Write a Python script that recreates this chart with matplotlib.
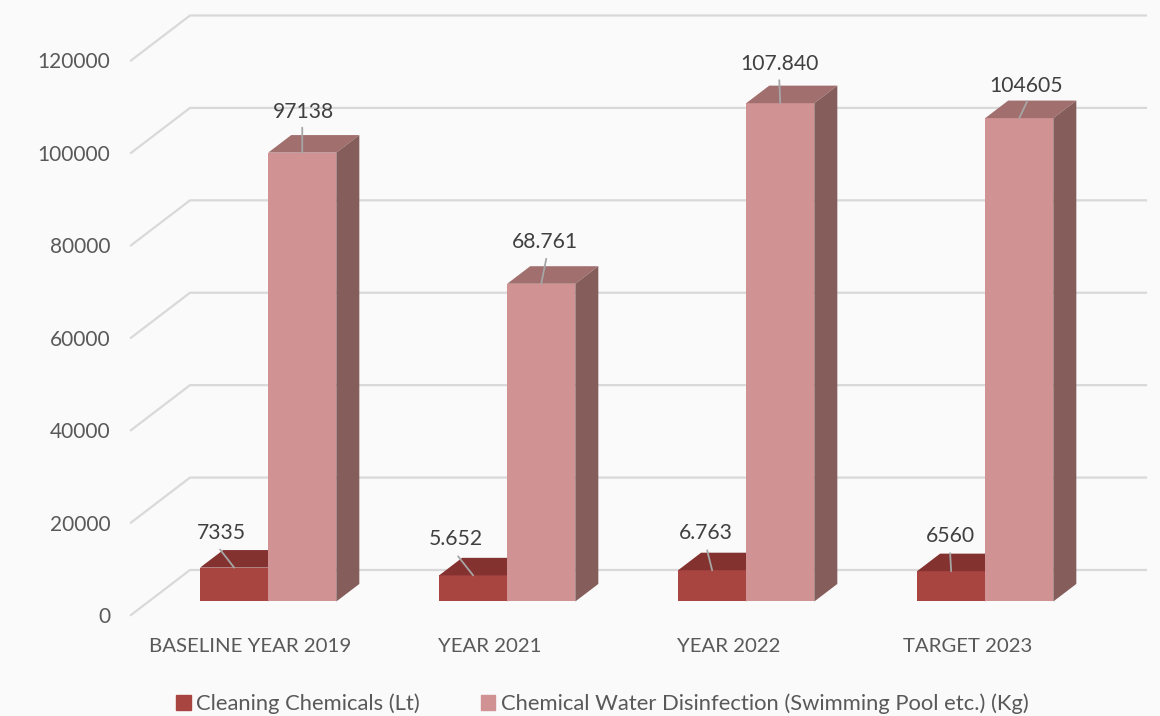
import matplotlib.pyplot as plt
from matplotlib.patches import Patch

plt.rcParams["font.family"] = ["Lato", "DejaVu Sans"]

# chart data
categories = ["BASELINE YEAR 2019", "YEAR 2021", "YEAR 2022", "TARGET 2023"]
cleaning = [7335, 5652, 6763, 6560]
disinfection = [97138, 68761, 107840, 104605]
cleaning_labels = ["7335", "5.652", "6.763", "6560"]
disinfection_labels = ["97138", "68.761", "107.840", "104605"]
y_ticks = [0, 20000, 40000, 60000, 80000, 100000, 120000]
series_names = ["Cleaning Chemicals (Lt)", "Chemical Water Disinfection (Swimming Pool etc.) (Kg)"]

W, H = 1160, 716
BG = "#fafafa"
GRID = "#d9d9d9"

# fake 3d: the depth of the floor in data units
DEPTH_X = 59 / 239
DEPTH_Y = 45 / 92.4 * 20000
BAR_T = 0.30  # where the bar front sits in the depth
BAR_W = 0.285
BAR_D = 0.39  # bar depth as part of floor depth

# label and leader offsets from the top front centre of the bar, in pixels
cleaning_text = [(-13, 35), (-17, 36), (-6, 37), (-1, 35)]
cleaning_lead = [(-14, 18), (-15, 19), (-5, 20), (-1, 18)]
disinfection_text = [(1, 41), (4, 42), (-1, 39), (7, 32)]
disinfection_lead = [(0, 25), (5, 25), (-1, 23), (8, 17)]

fig = plt.figure(figsize=(W / 100, H / 100), dpi=100, facecolor=BG)
ax = fig.add_axes([131 / W, (H - 615) / H, 956 / W, 554.5 / H], facecolor="none")
ax.set_xlim(-0.5, 3.5)
ax.set_ylim(0, 120000)
for s in ax.spines.values():
    s.set_visible(False)

# walls
for v in y_ticks:
    ax.plot([-0.5, -0.5 + DEPTH_X, 3.5 + DEPTH_X], [v, v + DEPTH_Y, v + DEPTH_Y],
            color=GRID, lw=1.6, clip_on=False, zorder=1, solid_joinstyle="round")


def draw_bars(xs, values, front, top, side, zorder):
    ax.bar(xs, values, BAR_W, bottom=BAR_T * DEPTH_Y, color=front, zorder=zorder)
    dx = BAR_D * DEPTH_X
    dy = BAR_D * DEPTH_Y
    for x, v in zip(xs, values):
        y0 = BAR_T * DEPTH_Y
        x0 = x - BAR_W / 2
        x1 = x + BAR_W / 2
        ax.fill([x0, x1, x1 + dx, x0 + dx], [y0 + v, y0 + v, y0 + v + dy, y0 + v + dy],
                color=top, lw=0, zorder=zorder, clip_on=False)
        ax.fill([x1, x1 + dx, x1 + dx, x1], [y0, y0 + dy, y0 + v + dy, y0 + v],
                color=side, lw=0, zorder=zorder, clip_on=False)


def draw_labels(xs, values, labels, text_off, lead_off, zorder):
    for x, v, lab, t, l in zip(xs, values, labels, text_off, lead_off):
        xy = (x, v + BAR_T * DEPTH_Y)
        ax.annotate("", xy=xy, xytext=l, textcoords="offset pixels", zorder=zorder,
                    annotation_clip=False,
                    arrowprops=dict(arrowstyle="-", color="#a6a6a6", lw=1.3, shrinkA=0, shrinkB=0))
        ax.annotate(lab, xy=xy, xytext=t, textcoords="offset pixels", ha="center", va="center",
                    fontsize=15.2, color="#404040", zorder=zorder, annotation_clip=False)


x_pos = [i + BAR_T * DEPTH_X for i in range(len(categories))]
x_red = [x - BAR_W / 2 for x in x_pos]
x_pink = [x + BAR_W / 2 for x in x_pos]

draw_bars(x_red, cleaning, "#a84541", "#843230", "#6b2a28", 3)
draw_bars(x_pink, disinfection, "#d09292", "#a06f6e", "#855d5b", 4)
draw_labels(x_red, cleaning, cleaning_labels, cleaning_text, cleaning_lead, 5)
draw_labels(x_pink, disinfection, disinfection_labels, disinfection_text, disinfection_lead, 5)

ax.set_yticks(y_ticks)
ax.set_xticks(range(len(categories)))
ax.set_xticklabels(categories)
ax.tick_params(axis="y", length=0, pad=15, labelsize=15, labelcolor="#595959")
ax.tick_params(axis="x", length=0, pad=16.5, labelsize=14.7, labelcolor="#595959")

handles = [Patch(color="#a84541"), Patch(color="#d09292")]
fig.legend(handles, series_names, loc="center", bbox_to_anchor=(602.5 / W, (H - 704) / H), ncol=2,
           frameon=False, fontsize=15.8, labelcolor="#595959", handlelength=0.64, handleheight=0.64,
           handletextpad=0.25, columnspacing=2.8, borderpad=0)

fig.savefig("out.png", dpi=100, facecolor=BG)
